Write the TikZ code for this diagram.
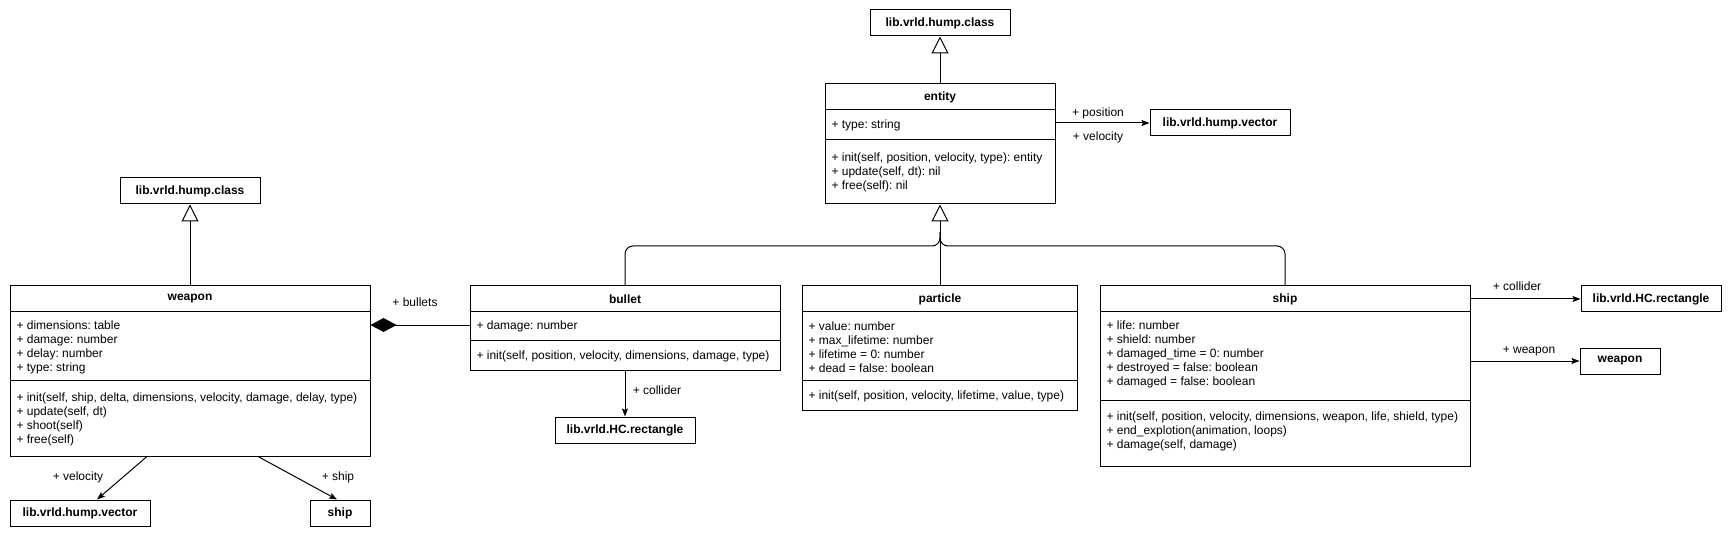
\documentclass[tikz,border=0pt]{standalone}
\usepackage{fontspec}
\setmainfont{Liberation Sans}
\usetikzlibrary{arrows.meta}
\frenchspacing

\begin{document}
\begin{tikzpicture}[x=1pt,y=-1pt,line width=1pt,font=\fontsize{12}{14}\selectfont,
  cls/.style={draw,inner sep=0pt},
  ref/.style={draw,font=\fontsize{12}{14}\selectfont\bfseries,minimum height=26pt,inner sep=0pt},
  head/.style={font=\fontsize{12}{14}\selectfont\bfseries,inner sep=0pt},
  mem/.style={anchor=west,align=left,inner sep=0pt},
  lbl/.style={inner sep=0pt},
  inherit/.style={-{Triangle[open,length=17pt,width=17pt]}},
  assoc/.style={-{Stealth[length=8pt,width=6pt,inset=1.5pt]}},
  compose/.style={{Diamond[length=26pt,width=14pt]}-}]
\useasboundingbox (0,0) rectangle (1732,537);
% weapon
\node[ref,minimum width=140pt] (wcls) at (190,191) {lib.vrld.hump.class};
\node[cls,minimum width=360pt,minimum height=170pt] (weapon) at (190,371) {};
\node[head] (weapon-h) at (190,299) {weapon};
\draw (weapon.west |- 0,312) -- (weapon.east |- 0,312);
\draw (weapon.west |- 0,380) -- (weapon.east |- 0,380);
\node[mem] (weapon-a) at (16,347) {+ dimensions: table\\+ damage: number\\+ delay: number\\+ type: string};
\node[mem] (weapon-m) at (16,419) {+ init(self, ship, delta, dimensions, velocity, damage, delay, type)\\+ update(self, dt)\\+ shoot(self)\\+ free(self)};
\node[ref,minimum width=140pt] (wvec) at (80,513) {lib.vrld.hump.vector};
\node[ref,minimum width=60pt] (wship) at (340,513) {ship};
% entity
\node[ref,minimum width=140pt] (ecls) at (940,23) {lib.vrld.hump.class};
\node[cls,minimum width=230pt,minimum height=120pt] (entity) at (940,144) {};
\node[head] (entity-h) at (940,97) {entity};
\draw (entity.west |- 0,110) -- (entity.east |- 0,110);
\draw (entity.west |- 0,140) -- (entity.east |- 0,140);
\node[mem] (entity-a) at (831,125) {+ type: string};
\node[mem] (entity-m) at (831,172) {+ init(self, position, velocity, type): entity\\+ update(self, dt): nil\\+ free(self): nil};
\node[ref,minimum width=140pt] (evec) at (1220,123) {lib.vrld.hump.vector};
% bullet
\node[cls,minimum width=310pt,minimum height=84pt] (bullet) at (625,328) {};
\node[head] (bullet-h) at (625,299) {bullet};
\draw (bullet.west |- 0,312) -- (bullet.east |- 0,312);
\draw (bullet.west |- 0,340) -- (bullet.east |- 0,340);
\node[mem] (bullet-a) at (476,326) {+ damage: number};
\node[mem] (bullet-m) at (476,356) {+ init(self, position, velocity, dimensions, damage, type)};
\node[ref,minimum width=140pt] (brect) at (625,430) {lib.vrld.HC.rectangle};
% particle
\node[cls,minimum width=275pt,minimum height=124pt] (particle) at (940,348) {};
\node[head] (particle-h) at (940,299) {particle};
\draw (particle.west |- 0,312) -- (particle.east |- 0,312);
\draw (particle.west |- 0,380) -- (particle.east |- 0,380);
\node[mem] (particle-a) at (808,347) {+ value: number\\+ max\_lifetime: number\\+ lifetime = 0: number\\+ dead = false: boolean};
\node[mem] (particle-m) at (808,396) {+ init(self, position, velocity, lifetime, value, type)};
% ship
\node[cls,minimum width=370pt,minimum height=180pt] (ship) at (1285,376) {};
\node[head] (ship-h) at (1285,299) {ship};
\draw (ship.west |- 0,312) -- (ship.east |- 0,312);
\draw (ship.west |- 0,400) -- (ship.east |- 0,400);
\node[mem] (ship-a) at (1106,354) {+ life: number\\+ shield: number\\+ damaged\_time = 0: number\\+ destroyed = false: boolean\\+ damaged = false: boolean};
\node[mem] (ship-m) at (1106,431) {+ init(self, position, velocity, dimensions, weapon, life, shield, type)\\+ end\_explotion(animation, loops)\\+ damage(self, damage)};
\node[ref,minimum width=140pt] (srect) at (1651,299) {lib.vrld.HC.rectangle};
\node[ref,minimum width=80pt] (swpn) at (1620,361) {weapon};
% inheritance
\coordinate (join) at (940,246);
\coordinate (fork) at (940,232);
\draw[inherit] (weapon.north) -- (wcls.south);
\draw[inherit] (entity.north) -- (ecls.south);
\draw[rounded corners=8pt] (bullet.north) |- (join) -- (fork);
\draw[inherit] (particle.north) -- (entity.south);
\draw[rounded corners=8pt] (ship.north) |- (join) -- (fork);
% associations
\draw[assoc] (entity.east |- evec.west) -- (evec.west);
\node[lbl] (pos-l) at (1098,113) {+ position};
\node[lbl] (vel-l) at (1098,137) {+ velocity};
\coordinate (bul) at ([yshift=3pt]bullet.west);
\draw[compose] (weapon.east |- bul) -- (bul);
\node[lbl] (bullets-l) at (415,302) {+ bullets};
\draw[assoc] (bullet.south) -- (brect.north);
\node[lbl] (bcol-l) at (657,390) {+ collider};
\draw[assoc] ([xshift=-43pt]weapon.south) -- ([xshift=17pt]wvec.north);
\node[lbl] (wvel-l) at (78,477) {+ velocity};
\draw[assoc] ([xshift=68pt]weapon.south) -- ([xshift=-3pt]wship.north);
\node[lbl] (wship-l) at (338,477) {+ ship};
\draw[assoc] (ship.east |- srect.west) -- (srect.west);
\node[lbl] (scol-l) at (1517,286) {+ collider};
\draw[assoc] (ship.east |- swpn.west) -- (swpn.west);
\node[lbl] (swpn-l) at (1529,351) {+ weapon};
\end{tikzpicture}
\end{document}
